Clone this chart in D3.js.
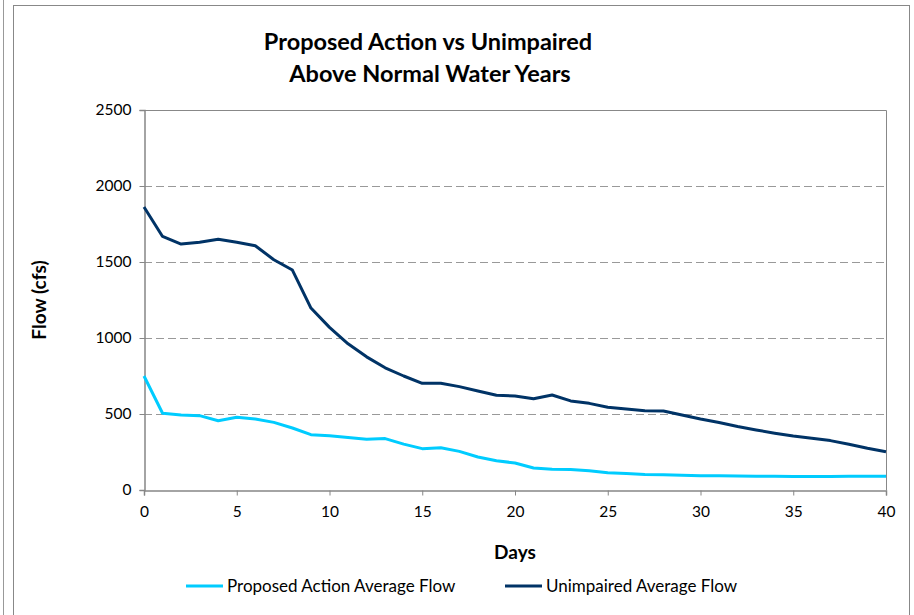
<!DOCTYPE html>
<html>
<head>
<meta charset="utf-8">
<script src="https://cdn.jsdelivr.net/npm/d3@7"></script>
<style>
  body { margin: 0; background: #fff; }
  svg { display: block; font-family: Lato, "Open Sans", sans-serif; }
</style>
</head>
<body>
<svg id="chart"></svg>
<script>
const width = 914;
const height = 615;
const margin = { top: 110, right: 28, bottom: 125, left: 144 };

const days = d3.range(0, 41);
const proposed = [750, 505, 493, 489, 456, 478, 467, 445, 408, 364, 357, 345, 334, 338, 302, 272, 278, 254, 217, 192, 178, 145, 137, 135, 126, 113, 108, 102, 100, 97, 94, 93, 92, 90, 90, 89, 88, 88, 91, 90, 90];
const unimpaired = [1862, 1668, 1618, 1630, 1649, 1630, 1607, 1515, 1447, 1197, 1070, 962, 876, 804, 750, 702, 702, 680, 651, 623, 618, 600, 625, 586, 570, 545, 533, 522, 520, 494, 467, 444, 418, 395, 374, 355, 340, 325, 301, 275, 252];
const yTicks = [0, 500, 1000, 1500, 2000, 2500];
const xTicks = [0, 5, 10, 15, 20, 25, 30, 35, 40];
const series = [
  { name: 'Proposed Action Average Flow', values: proposed, color: '#00ccff' },
  { name: 'Unimpaired Average Flow', values: unimpaired, color: '#003366' }
];

const svg = d3.select('#chart')
  .attr('width', width)
  .attr('height', height);

// outer frames
svg.append('line')
  .attr('x1', 3.5).attr('x2', 3.5)
  .attr('y1', 0).attr('y2', height)
  .attr('stroke', '#999');

svg.append('rect')
  .attr('x', 13.5).attr('y', 5.5)
  .attr('width', 896).attr('height', 640)
  .attr('fill', 'none')
  .attr('stroke', '#888');

const x = d3.scaleLinear().domain([0, 40]).range([margin.left, width - margin.right]);
const y = d3.scaleLinear().domain([0, 2500]).range([height - margin.bottom, margin.top]);

// gridlines
svg.append('g')
  .selectAll('line')
  .data(yTicks.slice(1, -1))
  .join('line')
  .attr('x1', x(0)).attr('x2', x(40))
  .attr('y1', d => Math.round(y(d)) + 0.5)
  .attr('y2', d => Math.round(y(d)) + 0.5)
  .attr('stroke', '#999')
  .attr('stroke-dasharray', '8,4');

// plot area border (top + right)
svg.append('path')
  .attr('d', `M${x(0)},${y(2500) + 0.5}H${x(40) + 0.5}V${y(0)}`)
  .attr('fill', 'none')
  .attr('stroke', '#888');

const yAxis = svg.append('g')
  .attr('transform', `translate(${x(0) + 0.5},0)`)
  .call(d3.axisLeft(y).tickValues(yTicks).tickFormat(d3.format('d')).tickSize(5).tickPadding(8));

const xAxis = svg.append('g')
  .attr('transform', `translate(0,${y(0) + 0.5})`)
  .call(d3.axisBottom(x).tickValues(xTicks).tickSize(5).tickPadding(10));

[xAxis, yAxis].forEach(g => {
  g.selectAll('.domain').attr('stroke', '#868686').attr('stroke-width', 1.5);
  g.selectAll('.tick line').attr('stroke', '#868686');
  g.selectAll('text').attr('font-size', 15.5).attr('fill', '#000').attr('font-family', 'Lato, sans-serif');
});

const line = d3.line()
  .x((d, i) => x(days[i]))
  .y(d => y(d));

svg.append('g')
  .selectAll('path')
  .data(series)
  .join('path')
  .attr('d', d => line(d.values))
  .attr('fill', 'none')
  .attr('stroke', d => d.color)
  .attr('stroke-width', 3)
  .attr('stroke-linejoin', 'round');

// titles
const title = svg.append('text')
  .attr('text-anchor', 'middle')
  .attr('font-size', 23.5)
  .attr('font-weight', 'bold');
title.append('tspan').attr('x', 428).attr('y', 50).text('Proposed Action vs Unimpaired');
title.append('tspan').attr('x', 430).attr('y', 82).text('Above Normal Water Years');

svg.append('text')
  .attr('transform', 'translate(46,300) rotate(-90)')
  .attr('text-anchor', 'middle')
  .attr('font-size', 19)
  .attr('font-weight', 'bold')
  .text('Flow (cfs)');

svg.append('text')
  .attr('x', x(20))
  .attr('y', 559)
  .attr('text-anchor', 'middle')
  .attr('font-size', 19)
  .attr('font-weight', 'bold')
  .text('Days');

// legend
const legendX = [186, 505];
const legend = svg.append('g')
  .selectAll('g')
  .data(series)
  .join('g')
  .attr('transform', (d, i) => `translate(${legendX[i]},586)`);

legend.append('line')
  .attr('x1', 0).attr('x2', 37)
  .attr('stroke', d => d.color)
  .attr('stroke-width', 3);

legend.append('text')
  .attr('x', 41)
  .attr('dy', '0.35em')
  .attr('font-size', 17)
  .text(d => d.name);
</script>
</body>
</html>
